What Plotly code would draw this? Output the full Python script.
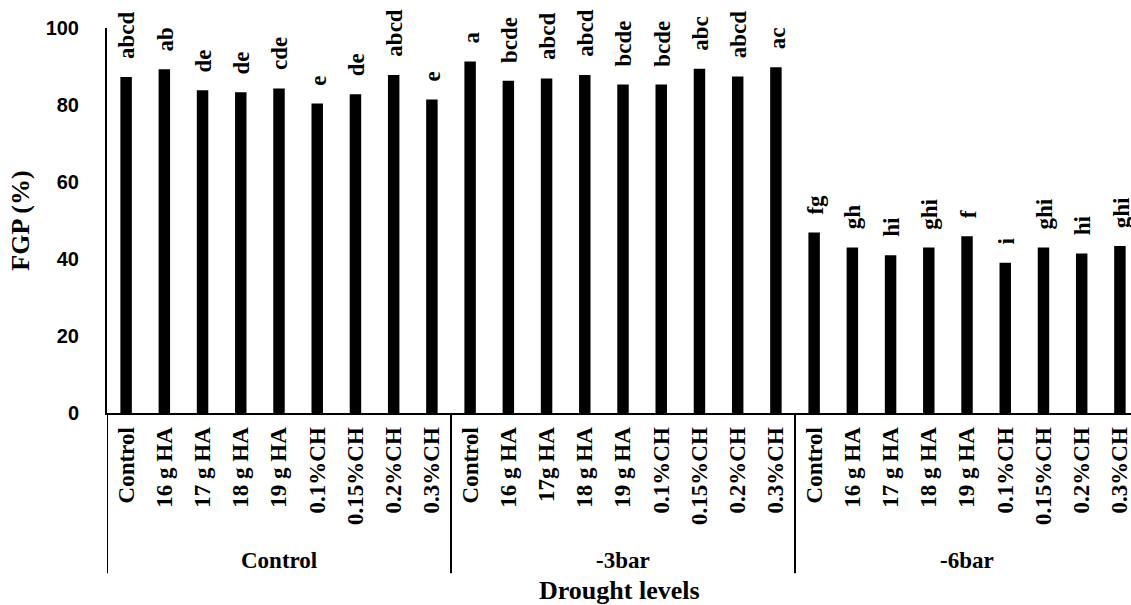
import plotly.graph_objects as go

groups = ["Control", "-3bar", "-6bar"]
treatments_g1 = ["Control", "16 g HA", "17 g HA", "18 g HA", "19 g HA", "0.1%CH", "0.15%CH", "0.2%CH", "0.3%CH"]
treatments_g2 = ["Control", "16 g HA", "17g HA", "18 g HA", "19 g HA", "0.1%CH", "0.15%CH", "0.2%CH", "0.3%CH"]
treatments_g3 = ["Control", "16 g HA", "17 g HA", "18 g HA", "19 g HA", "0.1%CH", "0.15%CH", "0.2%CH", "0.3%CH"]

fgp_control = [87.3, 89.3, 83.8, 83.3, 84.3, 80.4, 82.8, 87.8, 81.4]
fgp_3bar = [91.3, 86.3, 86.9, 87.8, 85.3, 85.3, 89.4, 87.4, 89.8]
fgp_6bar = [46.9, 43.0, 41.0, 43.0, 45.9, 39.0, 43.0, 41.4, 43.4]

letters_control = ["abcd", "ab", "de", "de", "cde", "e", "de", "abcd", "e"]
letters_3bar = ["a", "bcde", "abcd", "abcd", "bcde", "bcde", "abc", "abcd", "ac"]
letters_6bar = ["fg", "gh", "hi", "ghi", "f", "i", "ghi", "hi", "ghi"]

tick_labels = treatments_g1 + treatments_g2 + treatments_g3
values = fgp_control + fgp_3bar + fgp_6bar
letters = letters_control + letters_3bar + letters_6bar
group_sizes = [len(treatments_g1), len(treatments_g2), len(treatments_g3)]
xpos = list(range(len(values)))

serif = "Liberation Serif"

fig = go.Figure()
fig.add_trace(go.Bar(
    x=xpos, y=values, width=0.3,
    marker=dict(color="black", line=dict(width=0)),
    hoverinfo="skip", showlegend=False,
))

annotations = []
for xi, v, t in zip(xpos, values, letters):
    annotations.append(dict(
        x=xi, y=v, xref="x", yref="y", text=t, showarrow=False,
        textangle=-90, yanchor="bottom", xanchor="center", yshift=17, xshift=1,
        borderpad=0,
        font=dict(family=serif, size=23, color="black", weight="bold"),
    ))

shapes = []
start = 0
for g, n in zip(groups, group_sizes):
    center = start + (n - 1) / 2
    annotations.append(dict(
        x=center, y=0, xref="x", yref="paper", text=g, showarrow=False,
        yanchor="middle", yshift=-147,
        font=dict(family=serif, size=23, color="black", weight="bold"),
    ))
    shapes.append(dict(
        type="line", xref="x", yref="paper", x0=start - 0.5, x1=start - 0.5,
        y0=0, y1=-0.416, line=dict(color="black", width=2),
    ))
    start += n

annotations.append(dict(
    x=0.5, y=0, xref="paper", yref="paper", text="Drought levels", showarrow=False,
    yanchor="middle", yshift=-177,
    font=dict(family=serif, size=26, color="black", weight="bold"),
))

fig.update_layout(
    width=1131, height=605,
    margin=dict(l=107, r=0, t=28, b=192),
    plot_bgcolor="white", paper_bgcolor="white",
    bargap=0.7,
    annotations=annotations, shapes=shapes,
    xaxis=dict(
        tickmode="array", tickvals=xpos, ticktext=tick_labels,
        tickangle=-90, range=[-0.5, 26.29],
        tickfont=dict(family=serif, size=23, color="black", weight="bold"),
        showline=True, linecolor="black", linewidth=2,
        showgrid=False, zeroline=False, ticks="", ticklabelstandoff=3,
        ticklabeloverflow="allow", automargin=False,
    ),
    yaxis=dict(
        range=[0, 100], tickvals=[0, 20, 40, 60, 80, 100],
        tickfont=dict(family="Liberation Sans", size=20, color="black", weight="bold"),
        showline=True, linecolor="black", linewidth=2,
        showgrid=False, zeroline=False, ticks="", ticklabelstandoff=22,
        automargin=False,
        title=dict(text="FGP (%)", standoff=9,
                   font=dict(family=serif, size=26, color="black", weight="bold")),
    ),
)

fig.write_html("out.html", config={"displayModeBar": False},
               post_script="document.body.style.margin='0';document.body.style.overflow='hidden';")
